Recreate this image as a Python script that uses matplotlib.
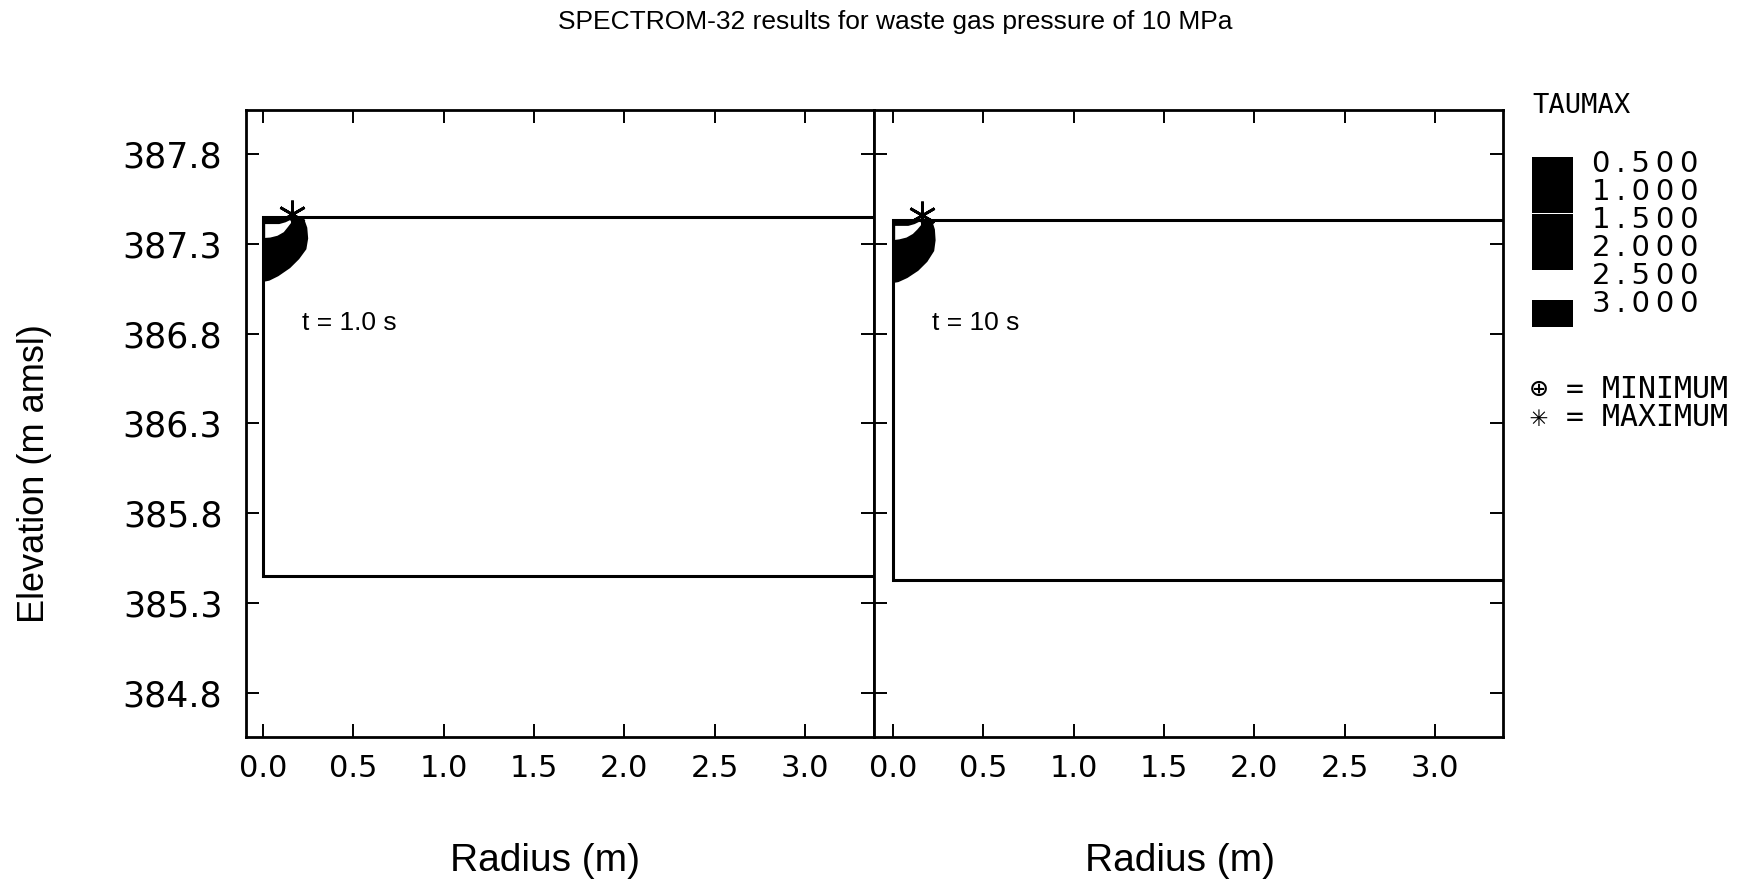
import matplotlib
matplotlib.use("Agg")
import matplotlib.pyplot as plt
from matplotlib.patches import Rectangle

# chart values
times = ["1.0", "10"]
x_ticks = [0.0, 0.5, 1.0, 1.5, 2.0, 2.5, 3.0]
y_ticks = [384.8, 385.3, 385.8, 386.3, 386.8, 387.3, 387.8]
x_limits = [(-0.094, 3.381), (-0.105, 3.376)]
y_limits = (384.555, 388.045)

# model domain (top / bottom of the salt layer)
domain_top = [387.447, 387.435]
domain_bottom = [385.45, 385.43]

# location of the maximum TAUMAX
max_r = [0.16, 0.16]
max_z = [387.466, 387.458]

# outline of the dark TAUMAX zone near the borehole
dark_r = [
    [0.0, 0.225, 0.245, 0.25, 0.24, 0.20, 0.15, 0.085, 0.035, 0.0],
    [0.0, 0.215, 0.232, 0.236, 0.228, 0.19, 0.14, 0.08, 0.03, 0.0],
]
dark_z = [
    [387.447, 387.447, 387.39, 387.33, 387.27, 387.215, 387.165, 387.12, 387.095, 387.088],
    [387.435, 387.435, 387.38, 387.32, 387.26, 387.20, 387.15, 387.11, 387.087, 387.082],
]
# lighter band inside the zone
light_r = [
    [0.012, 0.09, 0.125, 0.15, 0.158, 0.135, 0.115, 0.08, 0.04, 0.012],
    [0.012, 0.085, 0.12, 0.15, 0.16, 0.135, 0.11, 0.075, 0.035, 0.012],
]
light_z = [
    [387.41, 387.41, 387.42, 387.432, 387.42, 387.39, 387.365, 387.345, 387.335, 387.333],
    [387.40, 387.40, 387.41, 387.425, 387.41, 387.38, 387.355, 387.335, 387.325, 387.322],
]

legend_levels = ["0.500", "1.000", "1.500", "2.000", "2.500", "3.000"]

W, H = 1758, 885
fig = plt.figure(figsize=(W / 100, H / 100), dpi=100)
plot_font = "DejaVu Sans"
mono = ["DejaVu Sans Mono", "DejaVu Sans"]
sans = "Liberation Sans"


def px_axes(l, r, t, b):
    return fig.add_axes([l / W, 1 - b / H, (r - l) / W, (b - t) / H])


axes = [px_axes(246, 874, 110, 737), px_axes(874, 1503, 110, 737)]

for i, ax in enumerate(axes):
    x0, x1 = x_limits[i]
    ax.set_xlim(x0, x1)
    ax.set_ylim(*y_limits)

    # domain outline
    ax.plot([x1, 0, 0, x1],
            [domain_top[i], domain_top[i], domain_bottom[i], domain_bottom[i]],
            color="black", lw=2.2, solid_joinstyle="miter")

    ax.fill(dark_r[i], dark_z[i], color="black", lw=0)
    ax.fill(light_r[i], light_z[i], color="white", lw=0)
    ax.plot(max_r[i], max_z[i], marker=(6, 2, 0), ms=20, mew=2,
            color="black", ls="none", clip_on=False)

    ax.text(0.215, 386.86, f"t = {times[i]} s", fontsize=19, family=sans,
            va="center", ha="left")

    ax.set_xticks(x_ticks)
    ax.set_xticklabels([f"{v:.1f}" for v in x_ticks],
                       family=plot_font, fontsize=22)
    ax.set_yticks(y_ticks)
    ax.set_yticklabels([f"{v:.1f}" for v in y_ticks],
                       family=plot_font, fontsize=25)
    ax.tick_params(direction="in", top=True, right=True, length=9.5,
                   width=1.4, labelleft=(i == 0))
    ax.tick_params(axis="x", pad=12)
    ax.tick_params(axis="y", pad=17)
    for s in ax.spines.values():
        s.set_linewidth(2)

fig.text(895 / W, 1 - 22 / H,
         "SPECTROM-32 results for waste gas pressure of 10 MPa",
         fontsize=19, family=sans, ha="center", va="center")
fig.text(545 / W, 1 - 861 / H, "Radius (m)", fontsize=28, family=sans,
         ha="center", va="center")
fig.text(1180 / W, 1 - 861 / H, "Radius (m)", fontsize=28, family=sans,
         ha="center", va="center")
fig.text(35 / W, 1 - 474 / H, "Elevation (m amsl)", fontsize=26,
         family=sans, rotation=90, ha="center", va="center")

# colour scale legend
fig.text(1532 / W, 1 - 106 / H, "TAUMAX", fontsize=19.5, family=mono,
         ha="left", va="center")
for k, lev in enumerate(legend_levels):
    fig.text(1592 / W, 1 - (164 + 28 * k) / H, "\u2009".join(lev),
             fontsize=21, family=plot_font, ha="left", va="center")
fig.add_artist(Rectangle((1532 / W, 1 - 270 / H), 41 / W, 113 / H,
                         transform=fig.transFigure, color="black", lw=0))
fig.add_artist(Rectangle((1532 / W, 1 - 214 / H), 41 / W, 1.2 / H,
                         transform=fig.transFigure, color="white", lw=0))
fig.add_artist(Rectangle((1532 / W, 1 - 327 / H), 41 / W, 27 / H,
                         transform=fig.transFigure, color="black", lw=0))
fig.text(1530 / W, 1 - 390 / H, "\u2295 = MINIMUM", fontsize=21.5,
         family=mono, ha="left", va="center")
fig.text(1530 / W, 1 - 418 / H, "\u2733 = MAXIMUM", fontsize=21.5,
         family=mono, ha="left", va="center")

fig.savefig("out.png", dpi=100)
